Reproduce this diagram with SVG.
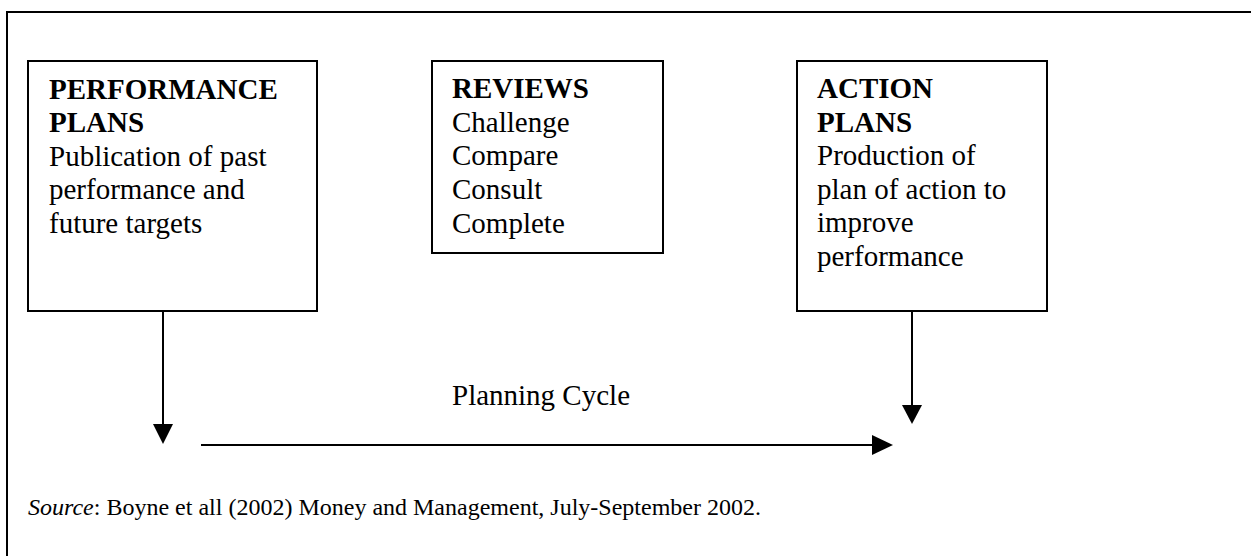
<svg xmlns="http://www.w3.org/2000/svg" width="1251" height="556" viewBox="0 0 1251 556">
  <style>
    .box { fill: #ffffff; stroke: #000000; stroke-width: 2; }
    .frame { fill: none; stroke: #000000; stroke-width: 2; }
    .line { fill: none; stroke: #000000; stroke-width: 2; }
    .head { fill: #000000; stroke: none; }
    text { font-family: "Liberation Serif", "Times New Roman", serif; fill: #000000; }
    .body { font-size: 29px; }
    .title { font-size: 29px; font-weight: bold; }
    .note { font-size: 24px; }
  </style>

  <rect width="1251" height="556" fill="#ffffff"/>

  <!-- outer frame: only top and left edges fall inside the page -->
  <path class="frame" d="M7,560 L7,12 L1260,12"/>

  <g id="performance-plans">
    <rect class="box" x="28" y="61" width="289" height="250"/>
    <text class="title" x="49" y="99">PERFORMANCE</text>
    <text class="title" x="49" y="132">PLANS</text>
    <text class="body" x="49" y="166">Publication of past</text>
    <text class="body" x="49" y="199">performance and</text>
    <text class="body" x="49" y="233">future targets</text>
  </g>

  <g id="reviews">
    <rect class="box" x="432" y="61" width="231" height="192"/>
    <text class="title" x="452" y="98">REVIEWS</text>
    <text class="body" x="452" y="132">Challenge</text>
    <text class="body" x="452" y="165">Compare</text>
    <text class="body" x="452" y="199">Consult</text>
    <text class="body" x="452" y="233">Complete</text>
  </g>

  <g id="action-plans">
    <rect class="box" x="797" y="61" width="250" height="250"/>
    <text class="title" x="817" y="98">ACTION</text>
    <text class="title" x="817" y="132">PLANS</text>
    <text class="body" x="817" y="165">Production of</text>
    <text class="body" x="817" y="199">plan of action to</text>
    <text class="body" x="817" y="232">improve</text>
    <text class="body" x="817" y="266">performance</text>
  </g>

  <g id="connectors">
    <!-- down from performance plans -->
    <line class="line" x1="163" y1="311" x2="163" y2="426"/>
    <polygon class="head" points="153,424 173,424 163,444"/>
    <!-- planning cycle, left to right -->
    <line class="line" x1="201" y1="445" x2="874" y2="445"/>
    <polygon class="head" points="872,435 872,455 893,445"/>
    <!-- down from action plans -->
    <line class="line" x1="912" y1="311" x2="912" y2="407"/>
    <polygon class="head" points="902,405 922,405 912,424"/>
  </g>

  <g id="cycle-label">
    <text class="body" x="452" y="405">Planning Cycle</text>
  </g>

  <g id="source-note">
    <text class="note" x="28" y="515"><tspan font-style="italic">Source</tspan>: Boyne et all (2002) Money and Management, July-September 2002.</text>
  </g>
</svg>
